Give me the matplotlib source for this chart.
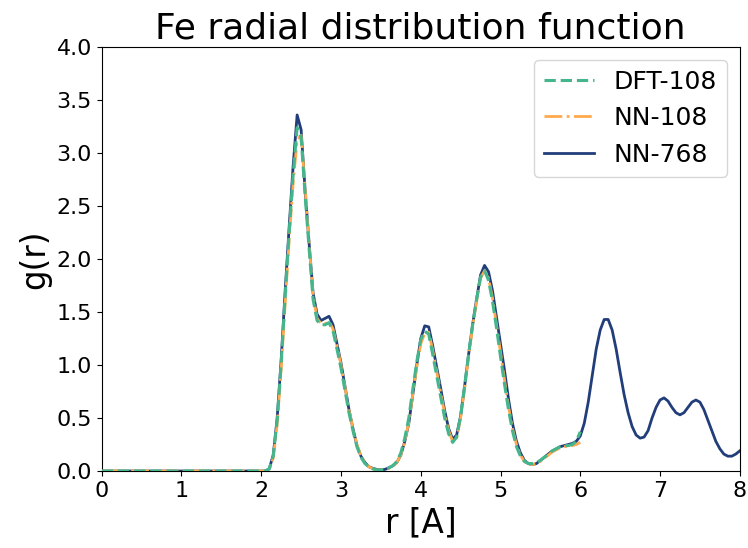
import matplotlib
matplotlib.use("Agg")
import matplotlib.pyplot as plt
import numpy as np

r_short = [0.0, 2.00, 2.05, 2.10, 2.15, 2.20, 2.25, 2.30, 2.35, 2.40, 2.45, 2.50, 2.55, 2.60, 2.65, 2.70,
           2.75, 2.80, 2.85, 2.90, 2.95, 3.00, 3.05, 3.10, 3.15, 3.20, 3.25, 3.30, 3.35, 3.40,
           3.45, 3.50, 3.55, 3.60, 3.65, 3.70, 3.75, 3.80, 3.85, 3.90, 3.95, 4.00, 4.05, 4.10,
           4.15, 4.20, 4.25, 4.30, 4.35, 4.40, 4.45, 4.50, 4.55, 4.60, 4.65, 4.70, 4.75, 4.80,
           4.85, 4.90, 4.95, 5.00, 5.05, 5.10, 5.15, 5.20, 5.25, 5.30, 5.35, 5.40, 5.45, 5.50,
           5.55, 5.60, 5.65, 5.70, 5.75, 5.80, 5.85, 5.90, 5.95, 6.00]

dft_108 = [0.0, 0.0, 0.0, 0.02, 0.14, 0.48, 1.02, 1.65, 2.25, 2.80, 3.24, 3.15, 2.60, 2.10, 1.62, 1.42,
           1.38, 1.38, 1.40, 1.32, 1.15, 0.97, 0.76, 0.55, 0.38, 0.23, 0.13, 0.07, 0.04, 0.02,
           0.01, 0.01, 0.015, 0.03, 0.05, 0.09, 0.17, 0.31, 0.50, 0.77, 1.03, 1.24, 1.32, 1.29,
           1.10, 0.90, 0.70, 0.50, 0.35, 0.27, 0.32, 0.52, 0.80, 1.10, 1.38, 1.62, 1.83, 1.89,
           1.80, 1.60, 1.35, 1.08, 0.82, 0.58, 0.38, 0.23, 0.14, 0.09, 0.07, 0.07, 0.08, 0.10,
           0.13, 0.16, 0.19, 0.21, 0.23, 0.24, 0.24, 0.25, 0.28, 0.37]

nn_108 = [0.0, 0.0, 0.0, 0.01, 0.12, 0.44, 0.96, 1.58, 2.18, 2.72, 3.12, 3.17, 2.68, 2.15, 1.66, 1.44,
          1.39, 1.39, 1.41, 1.34, 1.18, 1.00, 0.79, 0.58, 0.40, 0.25, 0.14, 0.08, 0.04, 0.02,
          0.01, 0.01, 0.012, 0.025, 0.045, 0.08, 0.15, 0.28, 0.46, 0.72, 0.98, 1.20, 1.30, 1.31,
          1.14, 0.94, 0.74, 0.54, 0.38, 0.28, 0.31, 0.50, 0.78, 1.08, 1.36, 1.60, 1.82, 1.89,
          1.82, 1.63, 1.38, 1.12, 0.86, 0.61, 0.40, 0.25, 0.15, 0.09, 0.07, 0.06, 0.07, 0.09,
          0.12, 0.15, 0.18, 0.20, 0.22, 0.23, 0.23, 0.24, 0.25, 0.27]

r_long = [0.0, 2.00, 2.05, 2.10, 2.15, 2.20, 2.25, 2.30, 2.35, 2.40, 2.45, 2.50, 2.55, 2.60, 2.65, 2.70,
          2.75, 2.80, 2.85, 2.90, 2.95, 3.00, 3.05, 3.10, 3.15, 3.20, 3.25, 3.30, 3.35, 3.40,
          3.45, 3.50, 3.55, 3.60, 3.65, 3.70, 3.75, 3.80, 3.85, 3.90, 3.95, 4.00, 4.05, 4.10,
          4.15, 4.20, 4.25, 4.30, 4.35, 4.40, 4.45, 4.50, 4.55, 4.60, 4.65, 4.70, 4.75, 4.80,
          4.85, 4.90, 4.95, 5.00, 5.05, 5.10, 5.15, 5.20, 5.25, 5.30, 5.35, 5.40, 5.45, 5.50,
          5.55, 5.60, 5.65, 5.70, 5.75, 5.80, 5.85, 5.90, 5.95, 6.00, 6.05, 6.10, 6.15, 6.20,
          6.25, 6.30, 6.35, 6.40, 6.45, 6.50, 6.55, 6.60, 6.65, 6.70, 6.75, 6.80, 6.85, 6.90,
          6.95, 7.00, 7.05, 7.10, 7.15, 7.20, 7.25, 7.30, 7.35, 7.40, 7.45, 7.50, 7.55, 7.60,
          7.65, 7.70, 7.75, 7.80, 7.85, 7.90, 7.95, 8.00]

nn_768 = [0.0, 0.0, 0.0, 0.02, 0.15, 0.50, 1.05, 1.70, 2.30, 2.88, 3.36, 3.22, 2.65, 2.15, 1.68, 1.48,
          1.42, 1.44, 1.46, 1.38, 1.20, 1.02, 0.80, 0.58, 0.40, 0.24, 0.14, 0.08, 0.04, 0.025,
          0.015, 0.01, 0.015, 0.03, 0.05, 0.08, 0.15, 0.28, 0.45, 0.72, 1.00, 1.25, 1.37, 1.36,
          1.18, 0.98, 0.78, 0.57, 0.40, 0.30, 0.34, 0.52, 0.80, 1.10, 1.38, 1.62, 1.85, 1.94,
          1.88, 1.70, 1.45, 1.20, 0.95, 0.68, 0.45, 0.28, 0.17, 0.10, 0.07, 0.06, 0.07, 0.10,
          0.13, 0.16, 0.19, 0.21, 0.23, 0.24, 0.25, 0.26, 0.28, 0.33, 0.45, 0.65, 0.90, 1.15,
          1.33, 1.43, 1.43, 1.33, 1.15, 0.93, 0.72, 0.55, 0.42, 0.34, 0.31, 0.32, 0.38, 0.50,
          0.60, 0.67, 0.69, 0.66, 0.60, 0.55, 0.53, 0.55, 0.60, 0.65, 0.67, 0.65, 0.58, 0.48,
          0.38, 0.28, 0.21, 0.16, 0.14, 0.14, 0.16, 0.19]

fig = plt.figure(figsize=(7.48, 5.48), dpi=100)
ax = fig.add_axes([0.136, 0.1405, 0.853, 0.7735])

ax.plot(r_long, nn_768, color="#213d7a", lw=2.0, ls="-", label="NN-768", zorder=2)
ax.plot(r_short, nn_108, color="#ffa94d", lw=2.0, ls="-.", label="NN-108", zorder=3)
ax.plot(r_short, dft_108, color="#45b68c", lw=2.2, ls="--", label="DFT-108", zorder=4)

handles, labels = ax.get_legend_handles_labels()
order = [2, 1, 0]
ax.legend([handles[i] for i in order], [labels[i] for i in order],
          loc="upper right", fontsize=18)

ax.set_xlim(0, 8)
ax.set_ylim(0, 4)
ax.set_yticks(np.arange(0, 4.01, 0.5))
ax.set_xticks(range(0, 9))
ax.tick_params(labelsize=16)
ax.set_xlabel("r [A]", fontsize=23.5)
ax.set_ylabel("g(r)", fontsize=23.5)
ax.set_title("Fe radial distribution function", fontsize=26)

fig.savefig("out.png", dpi=100)
